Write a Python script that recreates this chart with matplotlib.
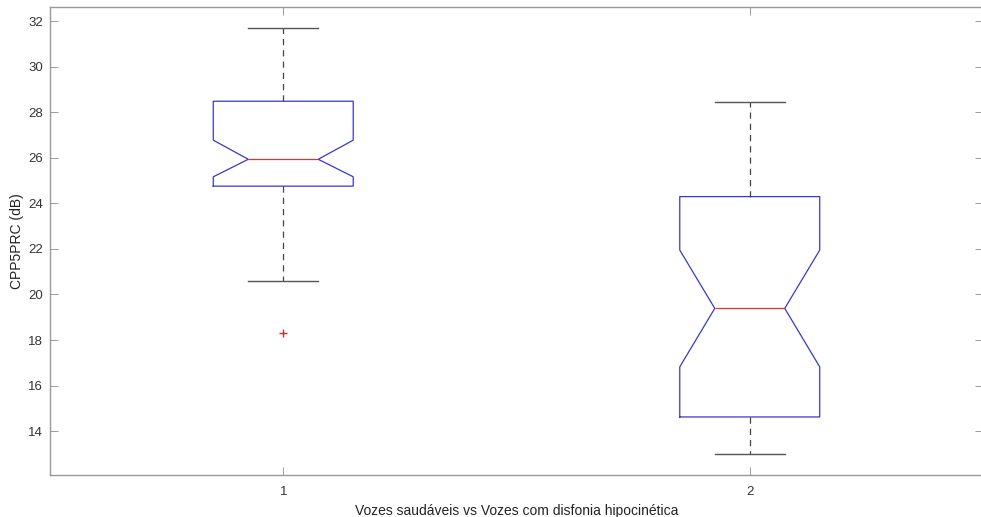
import matplotlib.pyplot as plt

# Notched box statistics (CPP5PRC, dB)
groups = ['1', '2']
medians = [25.94, 19.39]
q1 = [24.76, 14.62]
q3 = [28.49, 24.30]
notch_lo = [25.17, 16.82]
notch_hi = [26.78, 21.95]
whisk_lo = [20.59, 13.00]
whisk_hi = [31.71, 28.44]
outliers = [[18.30], []]

plt.rcParams['font.family'] = ['Liberation Sans', 'DejaVu Sans']

stats = []
for i in range(len(groups)):
    stats.append({
        'med': medians[i], 'q1': q1[i], 'q3': q3[i],
        'cilo': notch_lo[i], 'cihi': notch_hi[i],
        'whislo': whisk_lo[i], 'whishi': whisk_hi[i],
        'fliers': outliers[i], 'label': groups[i],
    })

fig = plt.figure(figsize=(9.81, 5.17), dpi=100)
ax = fig.add_axes([50 / 981, 1 - 475 / 517, 933 / 981, 468 / 517])

ax.bxp(stats, positions=[1, 2], widths=0.3, shownotches=True,
       boxprops=dict(color='#3838c8', linewidth=0.9),
       medianprops=dict(color='#e03030', linewidth=0.9),
       whiskerprops=dict(color='#444444', linewidth=0.9, linestyle=(0, (5, 4))),
       capprops=dict(color='#555555', linewidth=1.0),
       flierprops=dict(marker='+', markeredgecolor='#d03030', markersize=6,
                       linestyle='none'))

ax.set_xlim(0.5, 2.5)
ax.set_ylim(12.07, 32.63)
ax.set_yticks(range(14, 33, 2))
ax.set_xticks([1, 2])
ax.set_xticklabels(groups)

ax.tick_params(direction='in', length=6, width=0.7, color='#999999',
               labelcolor='#333333', labelsize=9.5, top=True, right=True)
ax.tick_params(axis='y', pad=5)
ax.tick_params(axis='x', pad=8)
for s in ax.spines.values():
    s.set_color('#999999')
    s.set_linewidth(1.0)

ax.set_ylabel('CPP5PRC (dB)', fontsize=10, color='#222222', labelpad=3)
ax.set_xlabel('Vozes saudáveis vs Vozes com disfonia hipocinética',
              fontsize=10, color='#222222', labelpad=4)

fig.savefig('out.png', dpi=100)
